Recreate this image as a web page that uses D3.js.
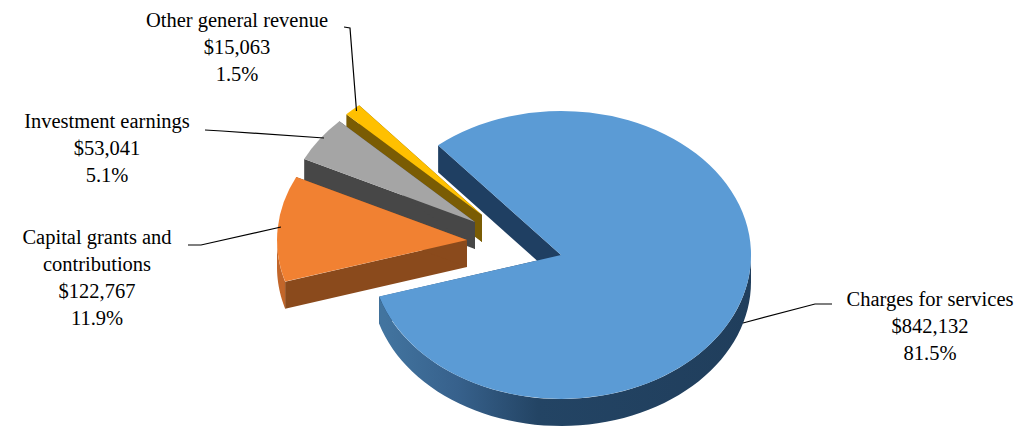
<!DOCTYPE html>
<html>
<head>
<meta charset="utf-8">
<script src="https://cdn.jsdelivr.net/npm/d3@7"></script>
<style>
  html, body { margin: 0; padding: 0; background: #fff; }
  svg { display: block; }
  text { font-family: "Liberation Serif", serif; font-size: 20.5px; fill: #000; }
</style>
</head>
<body>
<svg id="chart" width="1034" height="426"></svg>
<script>
// Revenue by source, in dollars
const categories = ["Charges for services", "Capital grants and contributions", "Investment earnings", "Other general revenue"];
const revenue = [842132, 122767, 53041, 15063];
const shares = ["81.5%", "11.9%", "5.1%", "1.5%"];

// Wrapped category lines as they are printed in the callouts
const categoryLines = [["Charges for services"], ["Capital grants and", "contributions"], ["Investment earnings"], ["Other general revenue"]];

// Palette: top face, radial wall, outer wall
const topColors = ["#5b9bd5", "#f18132", "#a5a5a5", "#ffc000"];
const wallColors = ["#1f3f62", "#8a4a1c", "#474747", "#7a5c04"];

// Projection of the pie disc and how far each wedge is pulled out of it
const centre = { x: 561, y: 255 };
const rx = 190, ry = 144, depth = 27;
const pullX = [0, -94, -86, -79];
const pullY = [0, -15, -33, -40];
const startDeg = -40.3;

// Callout anchor, elbow and label placement per category
const labelX = [930, 97, 107, 237];
const labelY = [306, 244, 128, 27];
const leaders = [
  [[832, 304], [815, 304], [743, 323]],
  [[188, 245], [201, 245], [281, 227]],
  [[205, 130], [222, 131], [324, 138]],
  [[344, 27], [350, 28], [356.5, 111]]
];

const svg = d3.select("#chart");
const defs = svg.append("defs");

// Rim shading of the large slice, bright on the left and dark to the right
const rim = defs.append("linearGradient")
  .attr("id", "rimBlue").attr("gradientUnits", "userSpaceOnUse")
  .attr("x1", 384).attr("x2", 751).attr("y1", 0).attr("y2", 0);
rim.append("stop").attr("offset", 0).attr("stop-color", "#42749f");
rim.append("stop").attr("offset", 0.2).attr("stop-color", "#37618c");
rim.append("stop").attr("offset", 0.42).attr("stop-color", "#234464");
rim.append("stop").attr("offset", 1).attr("stop-color", "#203e5c");

const rimOrange = defs.append("linearGradient")
  .attr("id", "rimOrange").attr("gradientUnits", "userSpaceOnUse")
  .attr("x1", 284).attr("x2", 292).attr("y1", 0).attr("y2", 0);
rimOrange.append("stop").attr("offset", 0).attr("stop-color", "#c2662a");
rimOrange.append("stop").attr("offset", 1).attr("stop-color", "#8a4a1c");

const rimFills = ["url(#rimBlue)", "url(#rimOrange)", "#474747", "#7a5c04"];

const pie = d3.pie().sort(null).value(d => d)
  .startAngle(startDeg * Math.PI / 180)
  .endAngle((startDeg + 360) * Math.PI / 180);
const slices = pie(revenue);

const unitArc = d3.arc().innerRadius(0).outerRadius(1);
const polygon = d3.line();

const rimPoint = (cx, cy, a, dy = 0) => [cx + rx * Math.sin(a), cy - ry * Math.cos(a) + dy];

// Walls and top of one wedge, painted back to front
function drawSlice(g, s) {
  const i = s.index;
  const cx = centre.x + pullX[i];
  const cy = centre.y + pullY[i];

  [s.startAngle, s.endAngle].forEach(a => {
    const pts = [[cx, cy], rimPoint(cx, cy, a), rimPoint(cx, cy, a, depth), [cx, cy + depth]];
    g.append("path").attr("d", polygon(pts) + "Z").attr("fill", wallColors[i]);
  });

  // Outer wall exists only where the rim faces the viewer (90 to 270 degrees)
  const from = Math.max(s.startAngle, Math.PI / 2);
  const to = Math.min(s.endAngle, 3 * Math.PI / 2);
  if (to > from) {
    const steps = d3.range(0, 61).map(k => from + (to - from) * k / 60);
    const pts = steps.map(a => rimPoint(cx, cy, a))
      .concat(steps.slice().reverse().map(a => rimPoint(cx, cy, a, depth)));
    g.append("path").attr("d", polygon(pts) + "Z").attr("fill", rimFills[i]);
  }

  g.append("path")
    .attr("d", unitArc(s))
    .attr("transform", `translate(${cx},${cy}) scale(${rx},${ry})`)
    .attr("fill", topColors[i]);
}

const pieLayer = svg.append("g");
[3, 2, 1, 0].forEach(i => drawSlice(pieLayer.append("g"), slices[i]));

// Leader lines
svg.append("g").selectAll("path").data(leaders).join("path")
  .attr("d", d => polygon(d))
  .attr("fill", "none").attr("stroke", "#000").attr("stroke-width", 1.2);

// Callouts: category, amount, share
const money = d3.format("$,");
const lineStep = 27;
const labels = svg.append("g").selectAll("text").data(categories).join("text")
  .attr("text-anchor", "middle");
labels.each(function (d, i) {
  const rows = categoryLines[i].concat([money(revenue[i]), shares[i]]);
  d3.select(this).selectAll("tspan").data(rows).join("tspan")
    .attr("x", labelX[i])
    .attr("y", (r, k) => labelY[i] + k * lineStep)
    .text(r => r);
});
</script>
</body>
</html>
